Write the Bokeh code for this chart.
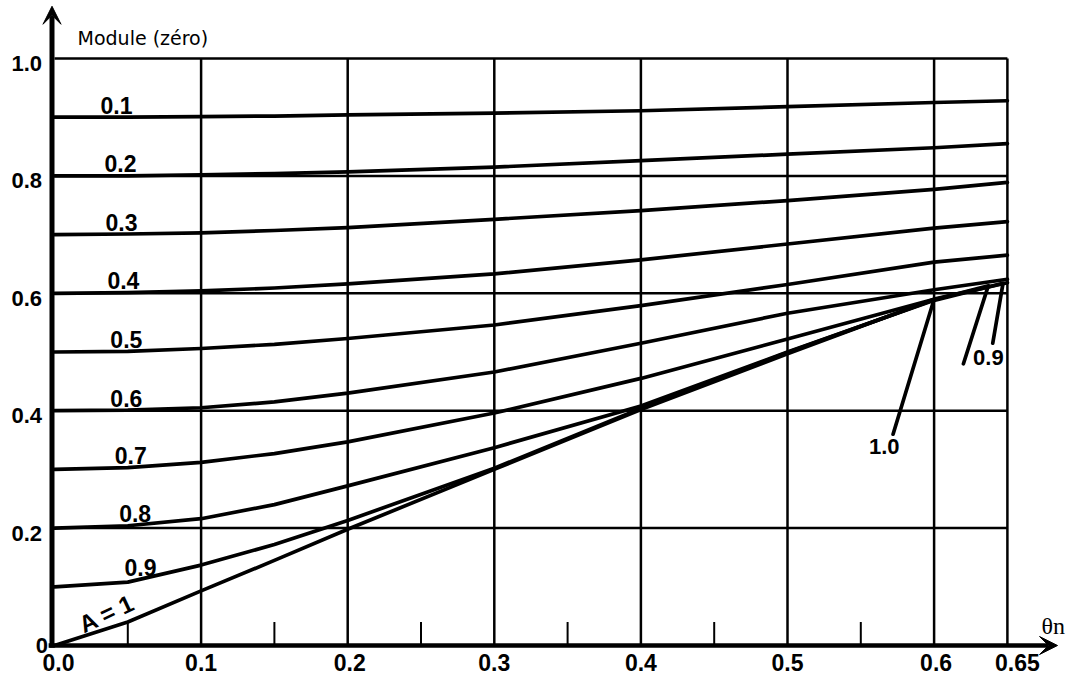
import numpy as np
from bokeh.plotting import figure
from bokeh.models import Range1d, Arrow, VeeHead
from bokeh.core.properties import value
from bokeh.embed import file_html
from bokeh.resources import INLINE

# ---------------- data ----------------
THETA = [0.0, 0.05, 0.10, 0.15, 0.20, 0.30, 0.40, 0.50, 0.60, 0.65]
A_VALUES = [0.1, 0.2, 0.3, 0.4, 0.5, 0.6, 0.7, 0.8, 0.9, 1.0]
A_LABELS = ["0.1", "0.2", "0.3", "0.4", "0.5", "0.6", "0.7", "0.8", "0.9"]

MOD_A01 = [0.900, 0.900, 0.901, 0.902, 0.904, 0.907, 0.911, 0.918, 0.925, 0.928]
MOD_A02 = [0.800, 0.800, 0.802, 0.804, 0.807, 0.815, 0.826, 0.837, 0.848, 0.855]
MOD_A03 = [0.700, 0.701, 0.703, 0.707, 0.712, 0.726, 0.741, 0.758, 0.777, 0.789]
MOD_A04 = [0.600, 0.601, 0.604, 0.609, 0.616, 0.633, 0.657, 0.684, 0.711, 0.722]
MOD_A05 = [0.500, 0.501, 0.506, 0.513, 0.523, 0.546, 0.579, 0.615, 0.653, 0.665]
MOD_A06 = [0.400, 0.401, 0.405, 0.415, 0.430, 0.466, 0.515, 0.566, 0.606, 0.624]
MOD_A07 = [0.300, 0.303, 0.312, 0.327, 0.347, 0.396, 0.455, 0.522, 0.590, 0.618]
MOD_A08 = [0.200, 0.204, 0.216, 0.240, 0.272, 0.337, 0.408, 0.500, 0.588]
MOD_A09 = [0.100, 0.108, 0.137, 0.172, 0.213, 0.302, 0.404, 0.499, 0.589]
MOD_A10 = [0.000, 0.040, 0.093, 0.145, 0.198, 0.300, 0.402, 0.497, 0.590]

# return branches of the curves for A = 0.8, 0.9, 1.0
TAIL_THETA_A08 = [0.647, 0.640]
TAIL_MOD_A08 = [0.617, 0.515]
TAIL_THETA_A09 = [0.637, 0.620]
TAIL_MOD_A09 = [0.613, 0.480]
TAIL_THETA_A10 = [0.572]
TAIL_MOD_A10 = [0.360]
TAIL_LABELS = ["0.9", "1.0"]

X_GRID = [0.1, 0.2, 0.3, 0.4, 0.5, 0.6, 0.65]
Y_GRID = [0.2, 0.4, 0.6, 0.8, 1.0]
X_MINOR = [0.05, 0.15, 0.25, 0.35, 0.45, 0.55]
X_TICK_LABELS = ["0.0", "0.1", "0.2", "0.3", "0.4", "0.5", "0.6", "0.65"]
X_TICK_POS = [0.0, 0.1, 0.2, 0.3, 0.4, 0.5, 0.6, 0.65]
Y_TICK_LABELS = ["0.2", "0.4", "0.6", "0.8", "1.0"]
Y_TICK_POS = [0.2, 0.4, 0.6, 0.8, 1.0]

# ---------------- figure ----------------
W, H = 1066, 681
p = figure(width=W, height=H, output_backend="svg", toolbar_location=None,
           x_range=Range1d(-54 / 1466, (W - 54) / 1466),
           y_range=Range1d((645 - H) / 587, 645 / 587),
           x_axis_location=None, y_axis_location=None, min_border=0,
           background_fill_color="white", border_fill_color="white")
p.outline_line_color = None
p.grid.visible = False

BLACK = "#000000"
SANS = value("Liberation Sans")

# grid
p.segment(x0=X_GRID, y0=[0.0] * len(X_GRID), x1=X_GRID, y1=[1.0] * len(X_GRID),
          line_color=BLACK, line_width=2.5)
p.segment(x0=[0.0] * len(Y_GRID), y0=Y_GRID, x1=[0.65] * len(Y_GRID), y1=Y_GRID,
          line_color=BLACK, line_width=2.5)
# minor ticks on the x axis
p.segment(x0=X_MINOR, y0=[0.0] * len(X_MINOR), x1=X_MINOR, y1=[0.04] * len(X_MINOR),
          line_color=BLACK, line_width=2)

# curves
mods = [MOD_A01, MOD_A02, MOD_A03, MOD_A04, MOD_A05, MOD_A06, MOD_A07]
curves = [(THETA, m) for m in mods]
curves.append((THETA[:9] + TAIL_THETA_A08, MOD_A08 + TAIL_MOD_A08))
curves.append((THETA[:9] + TAIL_THETA_A09, MOD_A09 + TAIL_MOD_A09))
curves.append((THETA[:9] + TAIL_THETA_A10, MOD_A10 + TAIL_MOD_A10))
for xs, ys in curves:
    p.line(xs, ys, line_color=BLACK, line_width=3.7, line_join="round", line_cap="round")

# curve labels (sitting on each curve near the left)
lab_x = [0.0423, 0.045, 0.0457, 0.047, 0.049, 0.049, 0.052, 0.055, 0.0587]
lab_y = [float(np.interp(lx, THETA[:9], m[:9])) for lx, m in
         zip(lab_x, mods + [MOD_A08, MOD_A09])]
p.text(x=lab_x, y=lab_y, text=A_LABELS, text_font=SANS, text_font_style="bold",
       text_font_size="23px", text_align="center", text_baseline="middle",
       y_offset=-12, text_color=BLACK)

# "A = 1" along the A = 1 curve (above it)
p.text(x=[0.0355], y=[0.0545], text=["A = 1"], angle=0.44, text_font=SANS,
       text_font_style="bold", text_font_size="24px", text_align="center",
       text_baseline="middle", text_color=BLACK)

# tail labels
p.text(x=[0.637, 0.566], y=[0.4906, 0.339], text=TAIL_LABELS, text_font=SANS,
       text_font_style="bold", text_font_size="22px", text_align="center",
       text_baseline="middle", text_color=BLACK)

# axes with arrows
p.add_layout(Arrow(end=VeeHead(size=18, fill_color=BLACK, line_color=BLACK, line_width=1),
                   x_start=-0.0017, y_start=-0.004, x_end=-0.0017, y_end=1.089,
                   line_color=BLACK, line_width=5))
p.add_layout(Arrow(end=VeeHead(size=18, fill_color=BLACK, line_color=BLACK, line_width=1),
                   x_start=-0.004, y_start=0.0, x_end=0.6842, y_end=0.0,
                   line_color=BLACK, line_width=4.5))

# tick labels
x_off = [4, 0, 2, 0, 0, 0, 2, 10]
p.text(x=X_TICK_POS, y=[0.0] * len(X_TICK_POS), text=X_TICK_LABELS, text_font=SANS,
       text_font_style="bold", text_font_size="23px", text_align="center",
       text_baseline="middle", x_offset=x_off, y_offset=17, text_color=BLACK)
p.text(x=[-0.0085] * len(Y_TICK_POS), y=Y_TICK_POS, text=Y_TICK_LABELS, text_font=SANS,
       text_font_style="bold", text_font_size="22px", text_align="right",
       text_baseline="middle", y_offset=5, text_color=BLACK)
p.text(x=[-0.0045], y=[0.0], text=["0"], text_font=SANS, text_font_style="bold",
       text_font_size="22px", text_align="right", text_baseline="middle",
       y_offset=0, text_color=BLACK)

# axis titles
p.text(x=[0.0157], y=[1.035], text=["Module (zéro)"], text_font=value("DejaVu Sans"),
       text_font_size="19px", text_align="left", text_baseline="middle",
       text_color=BLACK)
p.text(x=[0.6733], y=[0.0324], text=["θn"], text_font=value("Liberation Serif"),
       text_font_size="24px", text_align="left", text_baseline="middle",
       text_color=BLACK)

open("out.html", "w").write(file_html(p, INLINE))
